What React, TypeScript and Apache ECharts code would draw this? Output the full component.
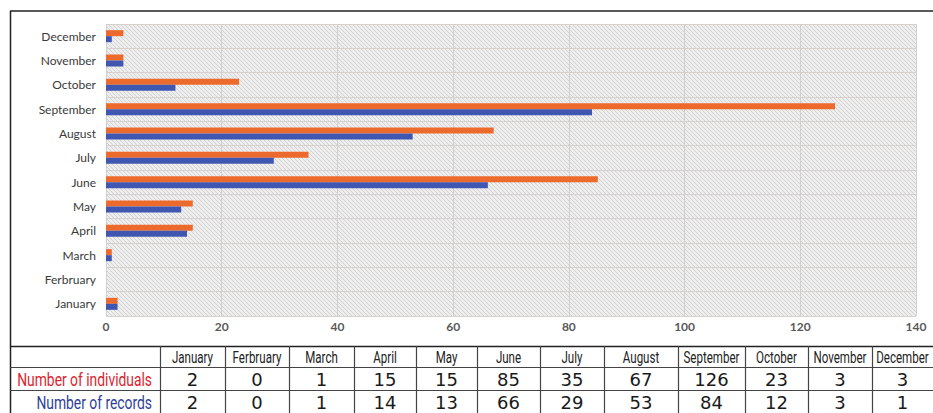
import React, { useEffect, useRef } from "react";
import * as echarts from "echarts";

const months = ["January", "Ferbruary", "March", "April", "May", "June", "July", "August", "September", "October", "November", "December"];
const individuals = [2, 0, 1, 15, 15, 85, 35, 67, 126, 23, 3, 3];
const records = [2, 0, 1, 14, 13, 66, 29, 53, 84, 12, 3, 1];
const xTicks = [0, 20, 40, 60, 80, 100, 120, 140];
const rowLabels = ["Number of individuals", "Number of records"];

// table layout (pixels)
const colEdges = [160, 225, 289, 354, 416, 477, 540, 604, 678, 745, 808, 872, 933];
const rowEdges = [346, 367, 390, 413];

function makeHatch() {
  const c = document.createElement("canvas");
  c.width = 4;
  c.height = 4;
  const g = c.getContext("2d")!;
  g.fillStyle = "#eeeeee";
  g.fillRect(0, 0, 4, 4);
  g.fillStyle = "#d2d2d2";
  for (let i = 0; i < 4; i++) {
    g.fillRect(i, i, 1, 1);
  }
  return c;
}

export default function App() {
  const ref = useRef<HTMLDivElement>(null);
  useEffect(() => {
    document.body.style.margin = "0";
    const chart = echarts.init(ref.current!, null, { renderer: "svg" });
    const headFont = "Roboto, sans-serif";
    const numFont = "'DejaVu Sans', 'Noto Sans', sans-serif";
    const graphics: any[] = [];
    // frame
    graphics.push({ type: "line", shape: { x1: 10, y1: 11, x2: 933, y2: 11 }, style: { stroke: "#222", lineWidth: 1.5 } });
    graphics.push({ type: "line", shape: { x1: 10.5, y1: 11, x2: 10.5, y2: 413 }, style: { stroke: "#222", lineWidth: 1.5 } });
    // table horizontal lines
    for (let r = 0; r < 3; r++) {
      graphics.push({ type: "line", shape: { x1: 10, y1: rowEdges[r] + 0.5, x2: 933, y2: rowEdges[r] + 0.5 }, style: { stroke: r === 0 ? "#222" : "#444", lineWidth: r === 0 ? 1.5 : 1.2 } });
    }
    // vertical lines
    for (let i = 0; i < colEdges.length - 1; i++) {
      graphics.push({ type: "line", shape: { x1: colEdges[i] + 0.5, y1: rowEdges[0], x2: colEdges[i] + 0.5, y2: 413 }, style: { stroke: "#444", lineWidth: 1.2 } });
    }
    months.forEach((m, i) => {
      const cx = (colEdges[i] + colEdges[i + 1]) / 2;
      graphics.push({ type: "text", x: cx, y: (rowEdges[0] + rowEdges[1]) / 2 + 1, scaleX: 0.68, style: { text: m, fill: "#222", font: `17px ${headFont}`, align: "center", verticalAlign: "middle" } });
      graphics.push({ type: "text", x: cx, y: (rowEdges[1] + rowEdges[2]) / 2 + 1, style: { text: String(individuals[i]), fill: "#1a1a1a", font: `18px ${numFont}`, align: "center", verticalAlign: "middle" } });
      graphics.push({ type: "text", x: cx, y: (rowEdges[2] + rowEdges[3]) / 2 + 1, style: { text: String(records[i]), fill: "#1a1a1a", font: `18px ${numFont}`, align: "center", verticalAlign: "middle" } });
    });
    graphics.push({ type: "text", x: 152, y: (rowEdges[1] + rowEdges[2]) / 2 + 1, scaleX: 0.77, style: { text: rowLabels[0], fill: "#dc2430", font: `18px ${headFont}`, align: "right", verticalAlign: "middle" } });
    graphics.push({ type: "text", x: 152, y: (rowEdges[2] + rowEdges[3]) / 2 + 1, scaleX: 0.77, style: { text: rowLabels[1], fill: "#2e3f97", font: `18px ${headFont}`, align: "right", verticalAlign: "middle" } });

    chart.setOption({
      animation: false,
      backgroundColor: "#ffffff",
      grid: {
        left: 106,
        right: 17,
        top: 24,
        bottom: 97,
        show: true,
        borderWidth: 0,
        backgroundColor: { image: makeHatch(), repeat: "repeat" },
      },
      xAxis: {
        type: "value",
        min: xTicks[0],
        max: xTicks[xTicks.length - 1],
        interval: 20,
        axisLine: { show: false },
        axisTick: { show: false },
        axisLabel: { color: "#595959", fontSize: 12, fontFamily: "Lato, 'Open Sans', sans-serif", fontWeight: "bold", margin: 4 },
        splitLine: { show: true, lineStyle: { color: "#d0d0d0", width: 1 } },
      },
      yAxis: {
        type: "category",
        data: months,
        axisLine: { show: false },
        axisTick: { show: false },
        axisLabel: { color: "#3a3a3a", fontSize: 12, fontFamily: "Lato, 'Open Sans', sans-serif", margin: 10 },
        splitLine: { show: true, lineStyle: { color: "#d8d0cc", width: 1 } },
      },
      series: [
        { name: rowLabels[0], type: "bar", data: individuals, barWidth: 6, barGap: "0%", itemStyle: { color: "#ec6a2c" } },
        { name: rowLabels[1], type: "bar", data: records, barWidth: 6, barGap: "0%", itemStyle: { color: "#3f57b0" } },
      ],
      graphic: graphics,
    });
    return () => chart.dispose();
  }, []);
  return <div ref={ref} style={{ width: 933, height: 413 }} />;
}
